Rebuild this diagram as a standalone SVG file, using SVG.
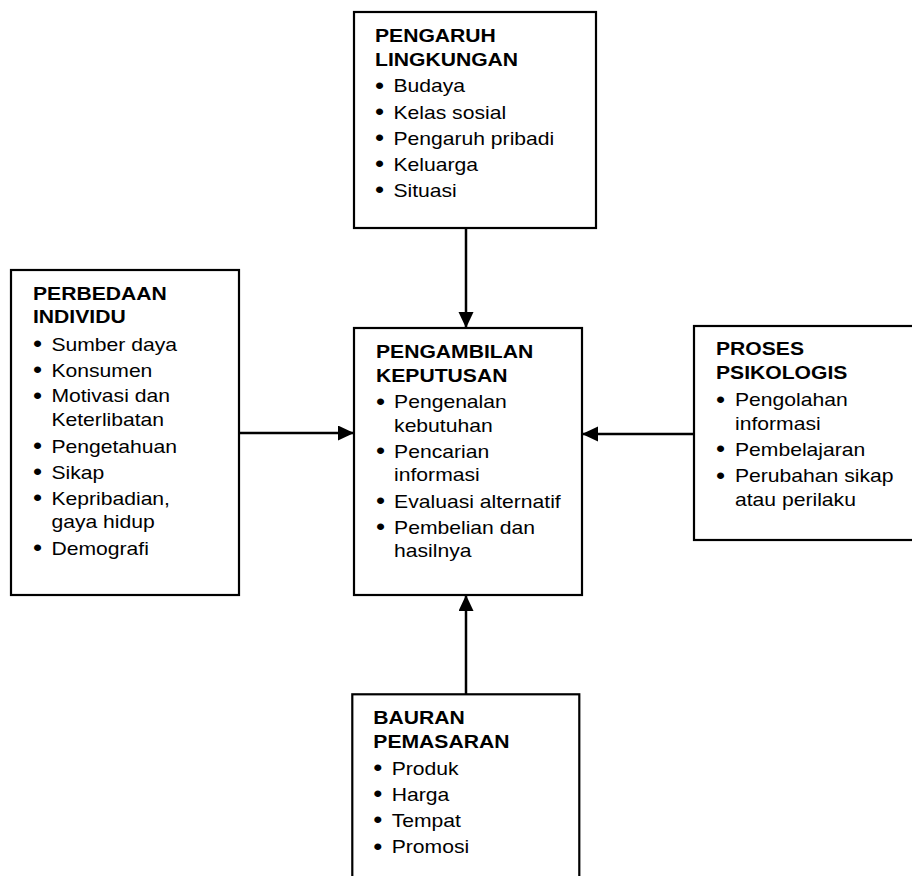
<svg xmlns="http://www.w3.org/2000/svg" width="912" height="876" viewBox="0 0 912 876">
<style>
.box{fill:#fff;stroke:#000;stroke-width:2.2}
.t{font-family:"Liberation Sans",Arial,sans-serif;font-size:18.7px;fill:#000}
.h{font-weight:bold}
.b{font-size:23px}
.conn{stroke:#000;stroke-width:2.5;fill:none}
</style>
<defs>
<marker id="ah" markerUnits="userSpaceOnUse" markerWidth="17" markerHeight="16" refX="16" refY="7.5" orient="auto">
<path d="M0,0 L16,7.5 L0,15 z" fill="#000"/>
</marker>
</defs>
<rect width="912" height="876" fill="#fff"/>
<g id="connectors">
<line class="conn" x1="466" y1="228" x2="466" y2="328" marker-end="url(#ah)"/>
<line class="conn" x1="239" y1="433" x2="354" y2="433" marker-end="url(#ah)"/>
<line class="conn" x1="694" y1="434" x2="582" y2="434" marker-end="url(#ah)"/>
<line class="conn" x1="466" y1="694" x2="466" y2="595" marker-end="url(#ah)"/>
</g>
<g id="pengaruh-lingkungan">
<rect class="box" x="354" y="12" width="242" height="216"/>
<g class="t" transform="translate(375,0) scale(1.13,1)">
<text class="h" x="0" y="41.7">PENGARUH</text>
<text class="h" x="0" y="65.7">LINGKUNGAN</text>
<text y="92.3"><tspan class="b" x="0" dy="1.5">•</tspan><tspan x="16.3" dy="-1.5">Budaya</tspan></text>
<text y="118.6"><tspan class="b" x="0" dy="1.5">•</tspan><tspan x="16.3" dy="-1.5">Kelas sosial</tspan></text>
<text y="144.8"><tspan class="b" x="0" dy="1.5">•</tspan><tspan x="16.3" dy="-1.5">Pengaruh pribadi</tspan></text>
<text y="170.8"><tspan class="b" x="0" dy="1.5">•</tspan><tspan x="16.3" dy="-1.5">Keluarga</tspan></text>
<text y="196.8"><tspan class="b" x="0" dy="1.5">•</tspan><tspan x="16.3" dy="-1.5">Situasi</tspan></text>
</g>
</g>
<g id="perbedaan-individu">
<rect class="box" x="11" y="270" width="228" height="325"/>
<g class="t" transform="translate(33,0) scale(1.13,1)">
<text class="h" x="0" y="300">PERBEDAAN</text>
<text class="h" x="0" y="323.3">INDIVIDU</text>
<text y="350.7"><tspan class="b" x="0" dy="1.5">•</tspan><tspan x="16.3" dy="-1.5">Sumber daya</tspan></text>
<text y="376.7"><tspan class="b" x="0" dy="1.5">•</tspan><tspan x="16.3" dy="-1.5">Konsumen</tspan></text>
<text y="402.5"><tspan class="b" x="0" dy="1.5">•</tspan><tspan x="16.3" dy="-1.5">Motivasi dan</tspan></text>
<text x="16.3" y="426.3">Keterlibatan</text>
<text y="453"><tspan class="b" x="0" dy="1.5">•</tspan><tspan x="16.3" dy="-1.5">Pengetahuan</tspan></text>
<text y="478.7"><tspan class="b" x="0" dy="1.5">•</tspan><tspan x="16.3" dy="-1.5">Sikap</tspan></text>
<text y="505"><tspan class="b" x="0" dy="1.5">•</tspan><tspan x="16.3" dy="-1.5">Kepribadian,</tspan></text>
<text x="16.3" y="528.5">gaya hidup</text>
<text y="555"><tspan class="b" x="0" dy="1.5">•</tspan><tspan x="16.3" dy="-1.5">Demografi</tspan></text>
</g>
</g>
<g id="pengambilan-keputusan">
<rect class="box" x="354" y="328" width="228" height="267"/>
<g class="t" transform="translate(376,0) scale(1.13,1)">
<text class="h" x="0" y="358.3">PENGAMBILAN</text>
<text class="h" x="0" y="381.7">KEPUTUSAN</text>
<text y="408.3"><tspan class="b" x="0" dy="1.5">•</tspan><tspan x="16" dy="-1.5">Pengenalan</tspan></text>
<text x="16" y="431.7">kebutuhan</text>
<text y="458"><tspan class="b" x="0" dy="1.5">•</tspan><tspan x="16" dy="-1.5">Pencarian</tspan></text>
<text x="16" y="481.3">informasi</text>
<text y="507.6"><tspan class="b" x="0" dy="1.5">•</tspan><tspan x="16" dy="-1.5">Evaluasi alternatif</tspan></text>
<text y="534"><tspan class="b" x="0" dy="1.5">•</tspan><tspan x="16" dy="-1.5">Pembelian dan</tspan></text>
<text x="16" y="557.3">hasilnya</text>
</g>
</g>
<g id="proses-psikologis">
<rect class="box" x="694" y="326" width="226" height="214"/>
<g class="t" transform="translate(716,0) scale(1.13,1)">
<text class="h" x="0" y="355.5">PROSES</text>
<text class="h" x="0" y="379.5">PSIKOLOGIS</text>
<text y="406.5"><tspan class="b" x="0" dy="1.5">•</tspan><tspan x="16.8" dy="-1.5">Pengolahan</tspan></text>
<text x="16.8" y="429.8">informasi</text>
<text y="456"><tspan class="b" x="0" dy="1.5">•</tspan><tspan x="16.8" dy="-1.5">Pembelajaran</tspan></text>
<text y="482.3"><tspan class="b" x="0" dy="1.5">•</tspan><tspan x="16.8" dy="-1.5">Perubahan sikap</tspan></text>
<text x="16.8" y="505.6">atau perilaku</text>
</g>
</g>
<g id="bauran-pemasaran">
<rect class="box" x="352.3" y="694.3" width="227" height="200"/>
<g class="t" transform="translate(373.3,0) scale(1.13,1)">
<text class="h" x="0" y="724.3">BAURAN</text>
<text class="h" x="0" y="748.3">PEMASARAN</text>
<text y="775"><tspan class="b" x="0" dy="1.5">•</tspan><tspan x="16.3" dy="-1.5">Produk</tspan></text>
<text y="801"><tspan class="b" x="0" dy="1.5">•</tspan><tspan x="16.3" dy="-1.5">Harga</tspan></text>
<text y="826.7"><tspan class="b" x="0" dy="1.5">•</tspan><tspan x="16.3" dy="-1.5">Tempat</tspan></text>
<text y="853.3"><tspan class="b" x="0" dy="1.5">•</tspan><tspan x="16.3" dy="-1.5">Promosi</tspan></text>
</g>
</g>
</svg>
